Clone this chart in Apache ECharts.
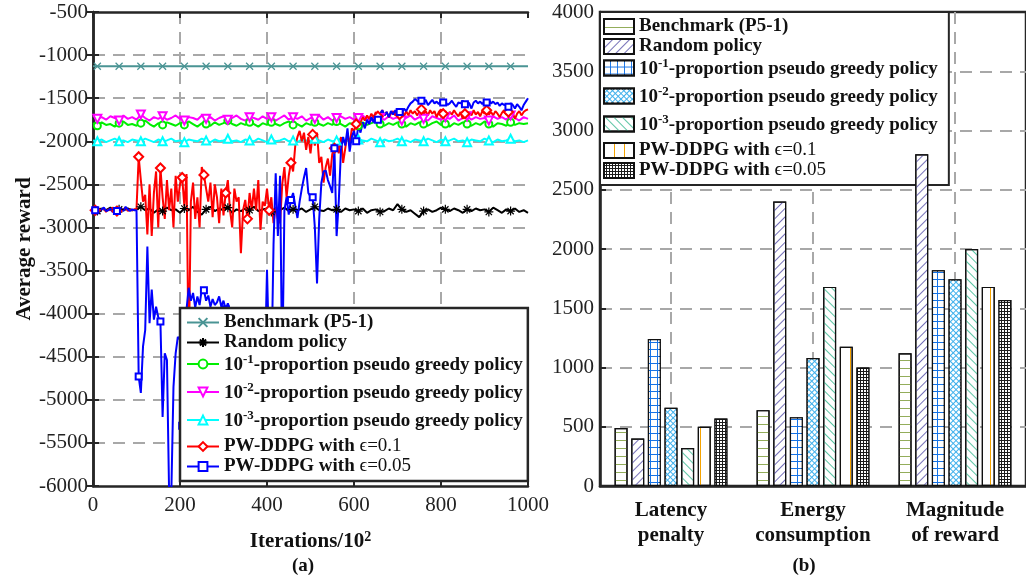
<!DOCTYPE html>
<html>
<head>
    <meta charset="utf-8">
    <script src="https://cdn.jsdelivr.net/npm/echarts@6/dist/echarts.min.js"></script>
</head>
<body style="margin:0;background:#fff">
    <div id="main" style="width:1026px;height:577px;"></div>
    <script type="text/javascript">
        // ---- data: (a) average reward per training stage ----
        // coarse series: one point every 10 (x10^2) iterations, fine series: every 5
        var coarseStep = 10;
        var fineStep = 5;

        var benchmarkReward = [
            -1130, -1130, -1130, -1130, -1130, -1130, -1130, -1130, -1130, -1130,
            -1130, -1130, -1130, -1130, -1130, -1130, -1130, -1130, -1130, -1130,
            -1130, -1130, -1130, -1130, -1130, -1130, -1130, -1130, -1130, -1130,
            -1130, -1130, -1130, -1130, -1130, -1130, -1130, -1130, -1130, -1130,
            -1130, -1130, -1130, -1130, -1130, -1130, -1130, -1130, -1130, -1130,
            -1130, -1130, -1130, -1130, -1130, -1130, -1130, -1130, -1130, -1130,
            -1130, -1130, -1130, -1130, -1130, -1130, -1130, -1130, -1130, -1130,
            -1130, -1130, -1130, -1130, -1130, -1130, -1130, -1130, -1130, -1130,
            -1130, -1130, -1130, -1130, -1130, -1130, -1130, -1130, -1130, -1130,
            -1130, -1130, -1130, -1130, -1130, -1130, -1130, -1130, -1130, -1130,
            -1130
        ];
        var randomReward = [
            -2790, -2810, -2780, -2800, -2770, -2810, -2790, -2800, -2780, -2800,
            -2790, -2760, -2800, -2780, -2830, -2790, -2810, -2770, -2800, -2790,
            -2830, -2780, -2800, -2760, -2820, -2850, -2790, -2760, -2810, -2780,
            -2800, -2770, -2830, -2790, -2810, -2780, -2800, -2760, -2810, -2790,
            -2780, -2820, -2790, -2800, -2770, -2810, -2790, -2800, -2780, -2820,
            -2790, -2760, -2800, -2810, -2780, -2800, -2790, -2820, -2780, -2800,
            -2790, -2810, -2780, -2830, -2800, -2790, -2820, -2810, -2780, -2800,
            -2730, -2790, -2820, -2800, -2840, -2880, -2810, -2790, -2820, -2800,
            -2770, -2790, -2810, -2780, -2800, -2830, -2790, -2810, -2780, -2800,
            -2790, -2820, -2770, -2800, -2830, -2790, -2810, -2780, -2820, -2800,
            -2830
        ];
        var greedy1Reward = [
            -1790, -1820, -1780, -1810, -1800, -1830, -1790, -1770, -1810, -1800,
            -1820, -1790, -1760, -1800, -1830, -1790, -1810, -1780, -1800, -1820,
            -1790, -1810, -1770, -1800, -1830, -1790, -1800, -1820, -1780, -1810,
            -1790, -1760, -1800, -1820, -1790, -1810, -1780, -1800, -1830, -1790,
            -1810, -1780, -1800, -1820, -1790, -1770, -1810, -1800, -1830, -1790,
            -1810, -1780, -1800, -1820, -1790, -1810, -1770, -1800, -1830, -1790,
            -1800, -1820, -1780, -1810, -1790, -1770, -1800, -1820, -1790, -1810,
            -1780, -1800, -1830, -1790, -1810, -1780, -1800, -1820, -1790, -1770,
            -1810, -1800, -1830, -1790, -1810, -1780, -1800, -1820, -1790, -1810,
            -1770, -1800, -1830, -1790, -1800, -1820, -1780, -1810, -1790, -1800,
            -1790
        ];
        var greedy2Reward = [
            -1700, -1740, -1720, -1750, -1710, -1730, -1760, -1700, -1740, -1720,
            -1750, -1690, -1730, -1760, -1720, -1740, -1710, -1750, -1730, -1700,
            -1740, -1760, -1720, -1730, -1750, -1700, -1740, -1720, -1760, -1730,
            -1710, -1750, -1730, -1700, -1740, -1760, -1720, -1730, -1750, -1710,
            -1740, -1720, -1760, -1730, -1700, -1750, -1720, -1740, -1710, -1760,
            -1730, -1740, -1700, -1750, -1720, -1760, -1730, -1710, -1740, -1720,
            -1750, -1730, -1700, -1740, -1760, -1720, -1730, -1750, -1710, -1740,
            -1720, -1760, -1730, -1700, -1750, -1720, -1740, -1760, -1710, -1730,
            -1750, -1720, -1740, -1700, -1760, -1730, -1710, -1750, -1720, -1740,
            -1730, -1760, -1710, -1740, -1720, -1750, -1700, -1730, -1760, -1720,
            -1740
        ];
        var greedy3Reward = [
            -1990, -2000, -1980, -2010, -1990, -1970, -2000, -1990, -2010, -1980,
            -1990, -2000, -1970, -1990, -2010, -1980, -2000, -1990, -1970, -2000,
            -1990, -2010, -1980, -1990, -2000, -1970, -1990, -2010, -1980, -2000,
            -1990, -1970, -2000, -1990, -2010, -1980, -1990, -2000, -1970, -1990,
            -2010, -1980, -2000, -1990, -1970, -2000, -1990, -2010, -1980, -1990,
            -2000, -1970, -1990, -2010, -1980, -2000, -1990, -1970, -2000, -1990,
            -2010, -1980, -1990, -2000, -1970, -1990, -2010, -1980, -2000, -1990,
            -1970, -2000, -1990, -2010, -1980, -1990, -2000, -1970, -1990, -2010,
            -1980, -2000, -1990, -1970, -2000, -1990, -2010, -1980, -1990, -2000,
            -1970, -1990, -2010, -1980, -2000, -1990, -1970, -2000, -1990, -2010,
            -1990
        ];
        var pwddpg01Reward = [
            -2790, -2800, -2770, -2810, -2790, -2780, -2820, -2790, -2800, -2770,
            -2790, -2810, -2780, -2800, -2790, -2770, -2810, -2790, -2800, -2790,
            -2790, -2180, -2450, -2700, -2620, -3080, -2500, -3100, -2600, -2350,
            -3000, -2310, -2650, -2900, -2450, -2800, -2550, -3000, -2400, -2700,
            -2500, -2420, -2750, -2380, -4600, -2700, -2480, -2900, -2650, -3000,
            -2300, -2390, -2550, -2700, -2480, -2880, -2500, -2650, -2950, -2550,
            -2860, -2600, -2450, -2800, -3000, -2550, -2700, -2650, -3300, -2800,
            -2680, -2900, -2600, -2800, -2550, -2800, -2450, -3030, -2700, -2750,
            -2550, -2800, -2650, -2950, -2760, -2900, -2950, -2500, -2300, -2650,
            -2400, -2250, -2350, -2050, -1950, -1880, -2000, -1900, -2100, -1950,
            -2140, -1920, -2050, -1900, -2250, -2180, -2480, -2300, -2200, -2400,
            -2150, -2080, -2000, -2140, -1950, -2250, -2080, -1900, -2050, -1850,
            -1880, -1800, -1870, -1780, -1720, -1760, -1700, -1740, -1680, -1730,
            -1660, -1710, -1690, -1640, -1700, -1660, -1720, -1680, -1650, -1700,
            -1640, -1690, -1660, -1710, -1650, -1700, -1640, -1680, -1650, -1700,
            -1660, -1630, -1690, -1650, -1700, -1640, -1680, -1650, -1720, -1660,
            -1630, -1680, -1650, -1700, -1660, -1690, -1640, -1680, -1710, -1660,
            -1740, -1680, -1750, -1660, -1700, -1640, -1690, -1660, -1710, -1650,
            -1680, -1640, -1690, -1660, -1700, -1650, -1680, -1720, -1670, -1640,
            -1690, -1660, -1710, -1670, -1740, -1680, -1650, -1700, -1660, -1640,
            -1630
        ];
        var pwddpg005Reward = [
            -2790, -2800, -2780, -2820, -2790, -2770, -2810, -2800, -2780, -2820,
            -2800, -2810, -2790, -2780, -2810, -2760, -2790, -2810, -2790, -2800,
            -2800, -4730, -4920, -4380, -4190, -3220, -4110, -3720, -4070, -3920,
            -4040, -4090, -5200, -4460, -4540, -6100, -6100, -4850, -4460, -4270,
            -4300, -5300, -4400, -3950, -3700, -3850, -3760, -3930, -3800, -3900,
            -3720, -3730, -3850, -3790, -3920, -3830, -3900, -3870, -3800, -3920,
            -3850, -3950, -3880, -3960, -4100, -4300, -4200, -4500, -4400, -4200,
            -4600, -4300, -4500, -4250, -4400, -4600, -4300, -4500, -4400, -4600,
            -3490, -4500, -4700, -3200, -2370, -3100, -2400, -4700, -2800, -2650,
            -2850, -2680, -2600, -2750, -2890, -2700, -2550, -2420, -2310, -2600,
            -2640, -2650, -3000, -3650, -2900, -2480, -2350, -2340, -2450, -2520,
            -2600, -2080, -3100, -2700, -2100, -1950, -2050, -1850, -2120, -1950,
            -1880, -2000, -1820, -1900, -1780, -1850, -1750, -1800, -1720, -1780,
            -1700, -1750, -1680, -1640, -1700, -1660, -1720, -1650, -1690, -1640,
            -1700, -1660, -1680, -1620, -1650, -1600, -1560, -1540, -1510, -1530,
            -1550, -1530, -1560, -1520, -1580, -1550, -1520, -1560, -1540, -1570,
            -1520, -1550, -1540, -1580, -1560, -1530, -1570, -1600, -1550, -1560,
            -1530, -1570, -1540, -1560, -1620, -1550, -1530, -1560, -1540, -1570,
            -1530, -1550, -1520, -1560, -1540, -1570, -1550, -1590, -1560, -1580,
            -1570, -1600, -1560, -1580, -1620, -1570, -1600, -1640, -1580, -1540,
            -1500
        ];

        // ---- data: (b) cost components, one value per method ----
        var categories = ['Latency\npenalty', 'Energy\nconsumption', 'Magnitude\nof reward'];
        var latencyPenalty = [490, 400, 1240, 660, 320, 500, 570];
        var energyConsumption = [640, 2400, 580, 1080, 1680, 1175, 1000];
        var rewardMagnitude = [1120, 2800, 1820, 1745, 2000, 1680, 1570];

        var methodNames = [
            'Benchmark (P5-1)',
            'Random policy',
            '10^-1-proportion pseudo greedy policy',
            '10^-2-proportion pseudo greedy policy',
            '10^-3-proportion pseudo greedy policy',
            'PW-DDPG with ϵ=0.1',
            'PW-DDPG with ϵ=0.05'
        ];

        // ---- styling ----
        var FONT = '"Liberation Serif", "Times New Roman", serif';
        var INK = '#111';
        var FRAME = '#262626';
        var GRIDLINE = { color: '#a8a8a8', width: 2, type: [12, 8] };

        var legendLabel = {};
        legendLabel[methodNames[0]] = '{t|Benchmark (P5-1)}';
        legendLabel[methodNames[1]] = '{t|Random policy}';
        legendLabel[methodNames[2]] = '{u|10}{s|-1}{u|-proportion pseudo greedy policy}';
        legendLabel[methodNames[3]] = '{u|10}{s|-2}{u|-proportion pseudo greedy policy}';
        legendLabel[methodNames[4]] = '{u|10}{s|-3}{u|-proportion pseudo greedy policy}';
        legendLabel[methodNames[5]] = '{t|PW-DDPG with }{n|ϵ=0.1}';
        legendLabel[methodNames[6]] = '{t|PW-DDPG with }{n|ϵ=0.05}';

        var legendRich = {
            t: { fontFamily: FONT, fontWeight: 'bold', fontSize: 19, lineHeight: 22, color: INK },
            u: { fontFamily: FONT, fontWeight: 'bold', fontSize: 19, lineHeight: 22, color: INK, verticalAlign: 'bottom' },
            s: { fontFamily: FONT, fontWeight: 'bold', fontSize: 13, lineHeight: 13, color: INK, verticalAlign: 'top', padding: [0, 0, 14, 0] },
            n: { fontFamily: FONT, fontWeight: 'normal', fontSize: 19, lineHeight: 22, color: INK }
        };

        function legendText(name) {
            return legendLabel[name.replace('\u200b', '')];
        }

        function plainNumber(v) {
            return String(v);
        }

        var lineLooks = [
            { values: benchmarkReward, step: coarseStep, color: '#4a9494', symbol: 'path://M0,0L10,10M10,0L0,10', size: 7, rotate: 0 },
            { values: randomReward, step: coarseStep, color: '#000000', symbol: 'path://M5,0L5,10M0,5L10,5M1.5,1.5L8.5,8.5M8.5,1.5L1.5,8.5', size: 9, rotate: 0 },
            { values: greedy1Reward, step: coarseStep, color: '#00ee00', symbol: 'emptyCircle', size: 7, rotate: 0 },
            { values: greedy2Reward, step: coarseStep, color: '#ff00ff', symbol: 'emptyTriangle', size: 8, rotate: 180 },
            { values: greedy3Reward, step: coarseStep, color: '#00ffff', symbol: 'emptyTriangle', size: 8, rotate: 0 },
            { values: pwddpg01Reward, step: fineStep, color: '#ff0000', symbol: 'emptyDiamond', size: 9, rotate: 0 },
            { values: pwddpg005Reward, step: fineStep, color: '#0000ff', symbol: 'emptyRect', size: 6, rotate: 0 }
        ];

        var barLooks = [
            { fill: '#ffffff', decal: { color: '#93ad5a', dashArrayX: [10, 0], dashArrayY: [1, 7], rotation: 0 } },
            { fill: '#ffffff', decal: { color: '#7570b8', dashArrayX: [1, 5], dashArrayY: [10, 0], rotation: Math.PI / 4 } },
            { fill: '#1673e6', decal: { color: '#ffffff', dashArrayX: [6, 1], dashArrayY: [6, 1], rotation: 0 } },
            { fill: '#3fb0ec', decal: { color: '#ffffff', dashArrayX: [3, 1], dashArrayY: [3, 1], rotation: Math.PI / 4 } },
            { fill: '#ffffff', decal: { color: '#5cc5a4', dashArrayX: [1, 5], dashArrayY: [10, 0], rotation: -Math.PI / 4 } },
            { fill: '#ffffff', decal: { color: '#f5a300', dashArrayX: [1, 9], dashArrayY: [10, 0], rotation: 0 } },
            { fill: '#1c1c1c', decal: { color: '#ffffff', dashArrayX: [2, 1], dashArrayY: [2, 1], rotation: 0 } }
        ];

        var series = [];
        lineLooks.forEach(function (look, k) {
            var every = 50 / look.step;
            series.push({
                name: methodNames[k],
                type: 'line',
                xAxisIndex: 0,
                yAxisIndex: 0,
                z: 2,
                data: look.values.map(function (v, i) { return [i * look.step, v]; }),
                symbol: look.symbol,
                symbolRotate: look.rotate,
                symbolSize: function (val, params) {
                    return params.dataIndex % every === 1 ? look.size : 0;
                },
                itemStyle: { color: look.color, borderColor: look.color, borderWidth: 1.2 },
                lineStyle: { color: look.color, width: 2 },
                emphasis: { disabled: true }
            });
        });

        methodNames.forEach(function (name, k) {
            series.push({
                name: name + '\u200b',
                type: 'bar',
                xAxisIndex: 2,
                yAxisIndex: 2,
                z: 6,
                barWidth: 13,
                barGap: '28%',
                data: [latencyPenalty[k], energyConsumption[k], rewardMagnitude[k]],
                itemStyle: {
                    color: barLooks[k].fill,
                    borderColor: '#111',
                    borderWidth: 1.2,
                    decal: Object.assign({ symbol: 'rect', symbolSize: 1 }, barLooks[k].decal)
                },
                emphasis: { disabled: true }
            });
        });

        var tickLabel = { fontFamily: FONT, fontSize: 21, color: '#222', formatter: plainNumber };
        var frameLine = { show: true, lineStyle: { color: FRAME, width: 2.5 } };
        var innerTick = { show: true, inside: true, length: 6, lineStyle: { color: FRAME, width: 2 } };

        var myChart = echarts.init(document.getElementById('main'));
        var option = {
            animation: false,
            backgroundColor: '#fff',
            grid: [
                { left: 93, top: 12, width: 435, height: 474 },
                { left: 600, top: 12, width: 438, height: 474, show: true, borderColor: FRAME, borderWidth: 2.5 }
            ],
            xAxis: [
                {
                    type: 'value', gridIndex: 0, min: 0, max: 1000, interval: 200,
                    axisLine: frameLine, axisTick: innerTick,
                    axisLabel: Object.assign({ margin: 9 }, tickLabel),
                    splitLine: { show: true, showMinLine: false, showMaxLine: false, lineStyle: GRIDLINE },
                    name: 'Iterations/10{s|2}', nameLocation: 'middle', nameGap: 44,
                    nameTextStyle: {
                        fontFamily: FONT, fontWeight: 'bold', fontSize: 21, color: INK, lineHeight: 24,
                        rich: { s: { fontFamily: FONT, fontWeight: 'bold', fontSize: 14, color: INK, verticalAlign: 'top', lineHeight: 12 } }
                    }
                },
                {
                    type: 'value', gridIndex: 0, position: 'top', min: 0, max: 1000, interval: 200,
                    axisLine: frameLine, axisTick: innerTick,
                    axisLabel: { show: false }, splitLine: { show: false }
                },
                {
                    type: 'category', gridIndex: 1, data: categories,
                    axisLine: { show: true, lineStyle: { color: FRAME, width: 2.5 } },
                    axisTick: { show: false, alignWithLabel: true },
                    axisLabel: { interval: 0, fontFamily: FONT, fontWeight: 'bold', fontSize: 21, lineHeight: 25, color: INK, margin: 12 },
                    splitLine: { show: true, alignWithLabel: true, lineStyle: GRIDLINE }
                }
            ],
            yAxis: [
                {
                    type: 'value', gridIndex: 0, min: -6000, max: -500, interval: 500,
                    axisLine: frameLine, axisTick: innerTick,
                    axisLabel: Object.assign({ margin: 5 }, tickLabel),
                    splitLine: { show: true, showMinLine: false, showMaxLine: false, lineStyle: GRIDLINE },
                    name: 'Average reward', nameLocation: 'middle', nameGap: 58,
                    nameTextStyle: { fontFamily: FONT, fontWeight: 'bold', fontSize: 21, color: INK }
                },
                {
                    type: 'value', gridIndex: 0, position: 'right', min: -6000, max: -500, interval: 500,
                    axisLine: frameLine, axisTick: innerTick,
                    axisLabel: { show: false }, splitLine: { show: false }
                },
                {
                    type: 'value', gridIndex: 1, min: 0, max: 4000, interval: 500,
                    axisLine: frameLine, axisTick: innerTick,
                    axisLabel: Object.assign({ margin: 6 }, tickLabel),
                    splitLine: { show: true, showMinLine: false, showMaxLine: false, lineStyle: GRIDLINE }
                }
            ],
            legend: [
                {
                    data: methodNames,
                    orient: 'vertical', left: 180, top: 308,
                    itemWidth: 32, itemHeight: 11, itemGap: 1,
                    padding: [5, 5, 5, 6],
                    backgroundColor: '#fff', borderColor: FRAME, borderWidth: 2.5,
                    selectedMode: false,
                    formatter: legendText,
                    textStyle: { fontFamily: FONT, fontWeight: 'bold', fontSize: 19, color: INK, rich: legendRich }
                },
                {
                    data: methodNames.map(function (n) { return n + '\u200b'; }),
                    orient: 'vertical', left: 600, top: 12,
                    icon: 'rect', itemWidth: 30, itemHeight: 15, itemGap: 1,
                    padding: [5, 11, 5, 3],
                    backgroundColor: '#fff', borderColor: FRAME, borderWidth: 2,
                    selectedMode: false,
                    formatter: legendText,
                    textStyle: { fontFamily: FONT, fontWeight: 'bold', fontSize: 19, color: INK, rich: legendRich }
                }
            ],
            graphic: [
                { type: 'text', x: 303, y: 566, style: { text: '(a)', font: 'bold 19px "Liberation Serif"', fill: INK, align: 'center', verticalAlign: 'middle' } },
                { type: 'text', x: 804, y: 566, style: { text: '(b)', font: 'bold 19px "Liberation Serif"', fill: INK, align: 'center', verticalAlign: 'middle' } }
            ],
            series: series
        };
        myChart.setOption(option);
    </script>
</body>
</html>
